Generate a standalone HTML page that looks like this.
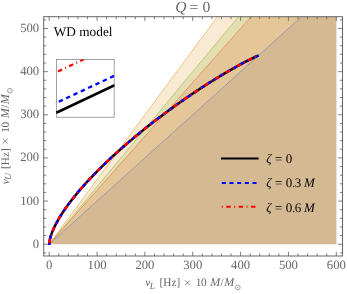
<!DOCTYPE html><html><head><meta charset="utf-8"><title>Q=0</title>
<style>html,body{margin:0;padding:0;background:#fff;}svg{display:block;will-change:transform;}text{font-family:"Liberation Serif",serif;text-rendering:geometricPrecision;}</style></head><body>
<svg width="347" height="294" viewBox="0 0 347 294">
<rect width="347" height="294" fill="#fff"/>
<g stroke="none" fill-opacity="0.2">
<path d="M49.2 244.2 L301.54 16.7 L336.3 16.7 L336.3 244.2Z" fill="#5E81B5"/>
<path d="M49.2 244.2 L217.43 16.7 L336.3 16.7 L336.3 244.2Z" fill="#E19C24"/>
<path d="M49.2 244.2 L238.45 16.7 L336.3 16.7 L336.3 244.2Z" fill="#8FB032"/>
<path d="M49.2 244.2 L251.07 16.7 L336.3 16.7 L336.3 244.2Z" fill="#EB6235"/>
</g>
<g fill="none" stroke-width="0.55">
<path d="M49.2 244.2 L301.54 16.7" stroke="#5E81B5"/>
<path d="M49.2 244.2 L217.43 16.7" stroke="#E19C24"/>
<path d="M49.2 244.2 L238.45 16.7" stroke="#8FB032"/>
<path d="M49.2 244.2 L251.07 16.7" stroke="#EB6235"/>
</g>
<g fill="none" stroke-linecap="butt" stroke-linejoin="round">
<path d="M258.61 55.4 L257.15 56.06 L255.7 56.74 L254.25 57.43 L252.81 58.12 L251.37 58.82 L249.93 59.53 L248.5 60.25 L247.07 60.98 L245.64 61.71 L244.22 62.45 L242.8 63.2 L241.38 63.95 L239.97 64.71 L238.57 65.47 L237.16 66.25 L235.76 67.02 L234.36 67.8 L232.95 68.59 L231.55 69.39 L230.15 70.18 L228.76 70.98 L227.36 71.8 L225.97 72.61 L224.59 73.42 L223.2 74.24 L221.82 75.06 L220.43 75.9 L219.05 76.74 L217.68 77.57 L216.3 78.41 L214.92 79.26 L213.55 80.11 L212.19 80.96 L210.82 81.81 L209.46 82.67 L208.1 83.53 L206.74 84.4 L205.39 85.26 L204.02 86.15 L202.65 87.03 L201.29 87.92 L199.94 88.8 L198.58 89.69 L197.23 90.59 L195.89 91.48 L194.53 92.38 L193.19 93.28 L191.84 94.2 L190.5 95.1 L189.15 96.02 L187.82 96.93 L186.48 97.86 L185.15 98.77 L183.82 99.7 L182.47 100.63 L181.15 101.56 L179.82 102.5 L178.48 103.45 L177.16 104.38 L175.84 105.33 L174.51 106.28 L173.2 107.22 L171.89 108.17 L170.57 109.13 L169.25 110.1 L167.95 111.05 L166.65 112.01 L165.34 112.98 L164.03 113.96 L162.72 114.94 L161.43 115.91 L160.15 116.88 L158.85 117.86 L157.56 118.84 L156.26 119.84 L154.97 120.84 L153.66 121.84 L152.4 122.82 L151.13 123.81 L149.87 124.81 L148.6 125.8 L147.33 126.81 L146.06 127.82 L144.79 128.83 L143.52 129.85 L142.26 130.87 L140.99 131.9 L139.73 132.93 L138.46 133.96 L137.2 135 L135.95 136.04 L134.69 137.08 L133.44 138.13 L132.19 139.18 L130.95 140.23 L129.71 141.28 L128.48 142.33 L127.25 143.39 L126.02 144.45 L124.8 145.5 L123.59 146.56 L122.38 147.62 L121.18 148.68 L119.95 149.77 L118.73 150.86 L117.52 151.95 L116.31 153.04 L115.12 154.12 L113.93 155.21 L112.75 156.29 L111.55 157.41 L110.35 158.52 L109.17 159.63 L108 160.73 L106.81 161.86 L105.62 162.99 L104.45 164.12 L103.3 165.24 L102.12 166.38 L100.96 167.52 L99.82 168.66 L98.65 169.82 L97.5 170.97 L96.37 172.12 L95.23 173.28 L94.1 174.44 L92.99 175.6 L91.87 176.77 L90.76 177.93 L89.65 179.11 L88.56 180.28 L87.46 181.47 L86.35 182.68 L85.27 183.87 L84.19 185.08 L83.1 186.3 L82.04 187.5 L80.98 188.72 L79.92 189.94 L78.87 191.18 L77.82 192.42 L76.78 193.67 L75.75 194.92 L74.73 196.18 L73.72 197.43 L72.72 198.69 L71.72 199.97 L70.74 201.24 L69.76 202.53 L68.8 203.81 L67.85 205.11 L66.9 206.41 L65.97 207.71 L65.05 209.04 L64.14 210.37 L63.24 211.7 L62.35 213.05 L61.48 214.4 L60.63 215.76 L59.79 217.13 L58.96 218.51 L58.15 219.9 L57.36 221.3 L56.59 222.71 L55.84 224.13 L55.11 225.57 L54.41 227.01 L53.73 228.46 L53.08 229.93 L52.46 231.41 L51.88 232.91 L51.33 234.42 L50.83 235.94 L50.37 237.48 L49.97 239.03 L49.63 240.59 L49.37 242.17 L49.21 243.76 L49.2 244.2 L49.2 245" stroke="#000" stroke-width="2.5"/>
<path d="M258.61 55.4 L257.15 56.06 L255.7 56.74 L254.25 57.43 L252.81 58.12 L251.37 58.82 L249.93 59.53 L248.5 60.25 L247.07 60.98 L245.64 61.71 L244.22 62.45 L242.8 63.2 L241.38 63.95 L239.97 64.71 L238.57 65.47 L237.16 66.25 L235.76 67.02 L234.36 67.8 L232.95 68.59 L231.55 69.39 L230.15 70.18 L228.76 70.98 L227.36 71.8 L225.97 72.61 L224.59 73.42 L223.2 74.24 L221.82 75.06 L220.43 75.9 L219.05 76.74 L217.68 77.57 L216.3 78.41 L214.92 79.26 L213.55 80.11 L212.19 80.96 L210.82 81.81 L209.46 82.67 L208.1 83.53 L206.74 84.4 L205.39 85.26 L204.02 86.15 L202.65 87.03 L201.29 87.92 L199.94 88.8 L198.58 89.69 L197.23 90.59 L195.89 91.48 L194.53 92.38 L193.19 93.28 L191.84 94.2 L190.5 95.1 L189.15 96.02 L187.82 96.93 L186.48 97.86 L185.15 98.77 L183.82 99.7 L182.47 100.63 L181.15 101.56 L179.82 102.5 L178.48 103.45 L177.16 104.38 L175.84 105.33 L174.51 106.28 L173.2 107.22 L171.89 108.17 L170.57 109.13 L169.25 110.1 L167.95 111.05 L166.65 112.01 L165.34 112.98 L164.03 113.96 L162.72 114.94 L161.43 115.91 L160.15 116.88 L158.85 117.86 L157.56 118.84 L156.26 119.84 L154.97 120.84 L153.66 121.84 L152.4 122.82 L151.13 123.81 L149.87 124.81 L148.6 125.8 L147.33 126.81 L146.06 127.82 L144.79 128.83 L143.52 129.85 L142.26 130.87 L140.99 131.9 L139.73 132.93 L138.46 133.96 L137.2 135 L135.95 136.04 L134.69 137.08 L133.44 138.13 L132.19 139.18 L130.95 140.23 L129.71 141.28 L128.48 142.33 L127.25 143.39 L126.02 144.45 L124.8 145.5 L123.59 146.56 L122.38 147.62 L121.18 148.68 L119.95 149.77 L118.73 150.86 L117.52 151.95 L116.31 153.04 L115.12 154.12 L113.93 155.21 L112.75 156.29 L111.55 157.41 L110.35 158.52 L109.17 159.63 L108 160.73 L106.81 161.86 L105.62 162.99 L104.45 164.12 L103.3 165.24 L102.12 166.38 L100.96 167.52 L99.82 168.66 L98.65 169.82 L97.5 170.97 L96.37 172.12 L95.23 173.28 L94.1 174.44 L92.99 175.6 L91.87 176.77 L90.76 177.93 L89.65 179.11 L88.56 180.28 L87.46 181.47 L86.35 182.68 L85.27 183.87 L84.19 185.08 L83.1 186.3 L82.04 187.5 L80.98 188.72 L79.92 189.94 L78.87 191.18 L77.82 192.42 L76.78 193.67 L75.75 194.92 L74.73 196.18 L73.72 197.43 L72.72 198.69 L71.72 199.97 L70.74 201.24 L69.76 202.53 L68.8 203.81 L67.85 205.11 L66.9 206.41 L65.97 207.71 L65.05 209.04 L64.14 210.37 L63.24 211.7 L62.35 213.05 L61.48 214.4 L60.63 215.76 L59.79 217.13 L58.96 218.51 L58.15 219.9 L57.36 221.3 L56.59 222.71 L55.84 224.13 L55.11 225.57 L54.41 227.01 L53.73 228.46 L53.08 229.93 L52.46 231.41 L51.88 232.91 L51.33 234.42 L50.83 235.94 L50.37 237.48 L49.97 239.03 L49.63 240.59 L49.37 242.17 L49.21 243.76 L49.2 244.2 L49.2 245" stroke="#0000ff" stroke-width="2.5" stroke-dasharray="4.08 3.635" stroke-dashoffset="6.78"/>
<path d="M258.61 55.4 L257.15 56.06 L255.7 56.74 L254.25 57.43 L252.81 58.12 L251.37 58.82 L249.93 59.53 L248.5 60.25 L247.07 60.98 L245.64 61.71 L244.22 62.45 L242.8 63.2 L241.38 63.95 L239.97 64.71 L238.57 65.47 L237.16 66.25 L235.76 67.02 L234.36 67.8 L232.95 68.59 L231.55 69.39 L230.15 70.18 L228.76 70.98 L227.36 71.8 L225.97 72.61 L224.59 73.42 L223.2 74.24 L221.82 75.06 L220.43 75.9 L219.05 76.74 L217.68 77.57 L216.3 78.41 L214.92 79.26 L213.55 80.11 L212.19 80.96 L210.82 81.81 L209.46 82.67 L208.1 83.53 L206.74 84.4 L205.39 85.26 L204.02 86.15 L202.65 87.03 L201.29 87.92 L199.94 88.8 L198.58 89.69 L197.23 90.59 L195.89 91.48 L194.53 92.38 L193.19 93.28 L191.84 94.2 L190.5 95.1 L189.15 96.02 L187.82 96.93 L186.48 97.86 L185.15 98.77 L183.82 99.7 L182.47 100.63 L181.15 101.56 L179.82 102.5 L178.48 103.45 L177.16 104.38 L175.84 105.33 L174.51 106.28 L173.2 107.22 L171.89 108.17 L170.57 109.13 L169.25 110.1 L167.95 111.05 L166.65 112.01 L165.34 112.98 L164.03 113.96 L162.72 114.94 L161.43 115.91 L160.15 116.88 L158.85 117.86 L157.56 118.84 L156.26 119.84 L154.97 120.84 L153.66 121.84 L152.4 122.82 L151.13 123.81 L149.87 124.81 L148.6 125.8 L147.33 126.81 L146.06 127.82 L144.79 128.83 L143.52 129.85 L142.26 130.87 L140.99 131.9 L139.73 132.93 L138.46 133.96 L137.2 135 L135.95 136.04 L134.69 137.08 L133.44 138.13 L132.19 139.18 L130.95 140.23 L129.71 141.28 L128.48 142.33 L127.25 143.39 L126.02 144.45 L124.8 145.5 L123.59 146.56 L122.38 147.62 L121.18 148.68 L119.95 149.77 L118.73 150.86 L117.52 151.95 L116.31 153.04 L115.12 154.12 L113.93 155.21 L112.75 156.29 L111.55 157.41 L110.35 158.52 L109.17 159.63 L108 160.73 L106.81 161.86 L105.62 162.99 L104.45 164.12 L103.3 165.24 L102.12 166.38 L100.96 167.52 L99.82 168.66 L98.65 169.82 L97.5 170.97 L96.37 172.12 L95.23 173.28 L94.1 174.44 L92.99 175.6 L91.87 176.77 L90.76 177.93 L89.65 179.11 L88.56 180.28 L87.46 181.47 L86.35 182.68 L85.27 183.87 L84.19 185.08 L83.1 186.3 L82.04 187.5 L80.98 188.72 L79.92 189.94 L78.87 191.18 L77.82 192.42 L76.78 193.67 L75.75 194.92 L74.73 196.18 L73.72 197.43 L72.72 198.69 L71.72 199.97 L70.74 201.24 L69.76 202.53 L68.8 203.81 L67.85 205.11 L66.9 206.41 L65.97 207.71 L65.05 209.04 L64.14 210.37 L63.24 211.7 L62.35 213.05 L61.48 214.4 L60.63 215.76 L59.79 217.13 L58.96 218.51 L58.15 219.9 L57.36 221.3 L56.59 222.71 L55.84 224.13 L55.11 225.57 L54.41 227.01 L53.73 228.46 L53.08 229.93 L52.46 231.41 L51.88 232.91 L51.33 234.42 L50.83 235.94 L50.37 237.48 L49.97 239.03 L49.63 240.59 L49.37 242.17 L49.21 243.76 L49.2 244.2 L49.2 245" stroke="#ff0000" stroke-width="2.5" stroke-dasharray="1 3.57 4.38 3.57" stroke-dashoffset="9.7"/>
</g>
<g fill="none" stroke="#666" stroke-width="0.85">
<rect x="43.7" y="16.7" width="298.8" height="239.3" stroke-width="1"/>
<path d="M49.2 256 v-4.2 M49.2 16.7 v4.2 M58.77 256 v-2.5 M58.77 16.7 v2.5 M68.34 256 v-2.5 M68.34 16.7 v2.5 M77.91 256 v-2.5 M77.91 16.7 v2.5 M87.48 256 v-2.5 M87.48 16.7 v2.5 M97.05 256 v-4.2 M97.05 16.7 v4.2 M106.62 256 v-2.5 M106.62 16.7 v2.5 M116.19 256 v-2.5 M116.19 16.7 v2.5 M125.76 256 v-2.5 M125.76 16.7 v2.5 M135.33 256 v-2.5 M135.33 16.7 v2.5 M144.9 256 v-4.2 M144.9 16.7 v4.2 M154.47 256 v-2.5 M154.47 16.7 v2.5 M164.04 256 v-2.5 M164.04 16.7 v2.5 M173.61 256 v-2.5 M173.61 16.7 v2.5 M183.18 256 v-2.5 M183.18 16.7 v2.5 M192.75 256 v-4.2 M192.75 16.7 v4.2 M202.32 256 v-2.5 M202.32 16.7 v2.5 M211.89 256 v-2.5 M211.89 16.7 v2.5 M221.46 256 v-2.5 M221.46 16.7 v2.5 M231.03 256 v-2.5 M231.03 16.7 v2.5 M240.6 256 v-4.2 M240.6 16.7 v4.2 M250.17 256 v-2.5 M250.17 16.7 v2.5 M259.74 256 v-2.5 M259.74 16.7 v2.5 M269.31 256 v-2.5 M269.31 16.7 v2.5 M278.88 256 v-2.5 M278.88 16.7 v2.5 M288.45 256 v-4.2 M288.45 16.7 v4.2 M298.02 256 v-2.5 M298.02 16.7 v2.5 M307.59 256 v-2.5 M307.59 16.7 v2.5 M317.16 256 v-2.5 M317.16 16.7 v2.5 M326.73 256 v-2.5 M326.73 16.7 v2.5 M336.3 256 v-4.2 M336.3 16.7 v4.2 M43.7 252.83 h2.5 M342.5 252.83 h-2.5 M43.7 244.2 h4.2 M342.5 244.2 h-4.2 M43.7 235.57 h2.5 M342.5 235.57 h-2.5 M43.7 226.94 h2.5 M342.5 226.94 h-2.5 M43.7 218.32 h2.5 M342.5 218.32 h-2.5 M43.7 209.69 h2.5 M342.5 209.69 h-2.5 M43.7 201.06 h4.2 M342.5 201.06 h-4.2 M43.7 192.43 h2.5 M342.5 192.43 h-2.5 M43.7 183.8 h2.5 M342.5 183.8 h-2.5 M43.7 175.18 h2.5 M342.5 175.18 h-2.5 M43.7 166.55 h2.5 M342.5 166.55 h-2.5 M43.7 157.92 h4.2 M342.5 157.92 h-4.2 M43.7 149.29 h2.5 M342.5 149.29 h-2.5 M43.7 140.66 h2.5 M342.5 140.66 h-2.5 M43.7 132.04 h2.5 M342.5 132.04 h-2.5 M43.7 123.41 h2.5 M342.5 123.41 h-2.5 M43.7 114.78 h4.2 M342.5 114.78 h-4.2 M43.7 106.15 h2.5 M342.5 106.15 h-2.5 M43.7 97.52 h2.5 M342.5 97.52 h-2.5 M43.7 88.9 h2.5 M342.5 88.9 h-2.5 M43.7 80.27 h2.5 M342.5 80.27 h-2.5 M43.7 71.64 h4.2 M342.5 71.64 h-4.2 M43.7 63.01 h2.5 M342.5 63.01 h-2.5 M43.7 54.38 h2.5 M342.5 54.38 h-2.5 M43.7 45.76 h2.5 M342.5 45.76 h-2.5 M43.7 37.13 h2.5 M342.5 37.13 h-2.5 M43.7 28.5 h4.2 M342.5 28.5 h-4.2 M43.7 19.87 h2.5 M342.5 19.87 h-2.5"/>
</g>
<g fill="#666" font-size="12.7px">
<text transform="translate(49.2,268.8) scale(1,1)" text-anchor="middle">0</text>
<text transform="translate(97.05,268.8) scale(1,1)" text-anchor="middle">100</text>
<text transform="translate(144.9,268.8) scale(1,1)" text-anchor="middle">200</text>
<text transform="translate(192.75,268.8) scale(1,1)" text-anchor="middle">300</text>
<text transform="translate(240.6,268.8) scale(1,1)" text-anchor="middle">400</text>
<text transform="translate(288.45,268.8) scale(1,1)" text-anchor="middle">500</text>
<text transform="translate(336.3,268.8) scale(1,1)" text-anchor="middle">600</text>
<text transform="translate(39.2,247.7) scale(1,1)" text-anchor="end">0</text>
<text transform="translate(39.2,204.56) scale(1,1)" text-anchor="end">100</text>
<text transform="translate(39.2,161.42) scale(1,1)" text-anchor="end">200</text>
<text transform="translate(39.2,118.28) scale(1,1)" text-anchor="end">300</text>
<text transform="translate(39.2,75.14) scale(1,1)" text-anchor="end">400</text>
<text transform="translate(39.2,32) scale(1,1)" text-anchor="end">500</text>
</g>
<g fill="#666" font-size="15.6px"><text x="175.3" y="11.5" font-style="italic">Q</text><text x="189.5" y="11.5">=</text><text x="202.4" y="11.5">0</text></g>
<g transform="translate(145.3,286.3)"><g font-size="11.3px" fill="#666"><text x="0" y="0" font-style="italic">ν</text><text x="4.4" y="2.3" font-style="italic" font-size="9.3px">L</text><text x="14.3" y="0">[Hz]</text><path d="M39.8 -5.95 l4.9 4.9 M39.8 -1.05 l4.9 -4.9" stroke="#666" stroke-width="0.75" fill="none"/><text x="50.5" y="0">1</text><text x="55.6" y="0">0</text><text x="65" y="0" font-style="italic" font-size="12px">M</text><text x="75.3" y="0">/</text><text x="78.9" y="0" font-style="italic" font-size="12px">M</text><circle cx="92.5" cy="1.1" r="2.35" stroke="#666" stroke-width="0.6" fill="none"/><circle cx="92.5" cy="1.1" r="0.55" fill="#666"/></g></g>
<g transform="translate(8.8,184.2) rotate(-90)"><g font-size="11.3px" fill="#666"><text x="0" y="0" font-style="italic">ν</text><text x="4.4" y="2.3" font-style="italic" font-size="9.3px">U</text><text x="15.3" y="0">[Hz]</text><path d="M40.8 -5.95 l4.9 4.9 M40.8 -1.05 l4.9 -4.9" stroke="#666" stroke-width="0.75" fill="none"/><text x="51.5" y="0">1</text><text x="56.6" y="0">0</text><text x="66" y="0" font-style="italic" font-size="12px">M</text><text x="76.3" y="0">/</text><text x="79.9" y="0" font-style="italic" font-size="12px">M</text><circle cx="93.5" cy="1.1" r="2.35" stroke="#666" stroke-width="0.6" fill="none"/><circle cx="93.5" cy="1.1" r="0.55" fill="#666"/></g></g>
<text x="53.8" y="36.1" font-size="13.3px" fill="#000">WD model</text>
<clipPath id="ic"><rect x="55.5" y="59.4" width="59.05" height="57.8"/></clipPath>
<rect x="56.4" y="59.4" width="57.75" height="57.8" fill="#fff" stroke="#666" stroke-width="0.6"/>
<g clip-path="url(#ic)" fill="none">
<path d="M56.3 112.7 L114.7 85.2" stroke="#000" stroke-width="2.6"/>
<path d="M55.3 103.4 L115.1 75.4" stroke="#0000ff" stroke-width="2.3" stroke-dasharray="4.4 3.69" stroke-dashoffset="4.2"/>
<path d="M58.0 71.45 L92 55.3" stroke="#ff0000" stroke-width="2.3" stroke-dasharray="4.5 3.4 1 3.4"/>
</g>
<g fill="none">
<path d="M221 158.6 H258.6" stroke="#000" stroke-width="2"/>
<path d="M221.8 182.9 H257" stroke="#0000ff" stroke-width="2" stroke-dasharray="4.06 3.61"/>
<path d="M221.8 206.8 H256" stroke="#ff0000" stroke-width="2" stroke-dasharray="1 3.55 4.3 3.55"/>
</g>
<g fill="#000" font-size="13px" word-spacing="0.2px">
<text x="266.3" y="163.2"><tspan font-style="italic">ζ</tspan> = 0</text>
<text x="266.3" y="187.35"><tspan font-style="italic">ζ</tspan> = 0<tspan dx="-0.4">.</tspan><tspan dx="-0.5">3</tspan> <tspan dx="-0.6" font-style="italic">M</tspan></text>
<text x="266.3" y="211.5"><tspan font-style="italic">ζ</tspan> = 0<tspan dx="-0.4">.</tspan><tspan dx="-0.5">6</tspan> <tspan dx="-0.6" font-style="italic">M</tspan></text>
</g>
</svg></body></html>
